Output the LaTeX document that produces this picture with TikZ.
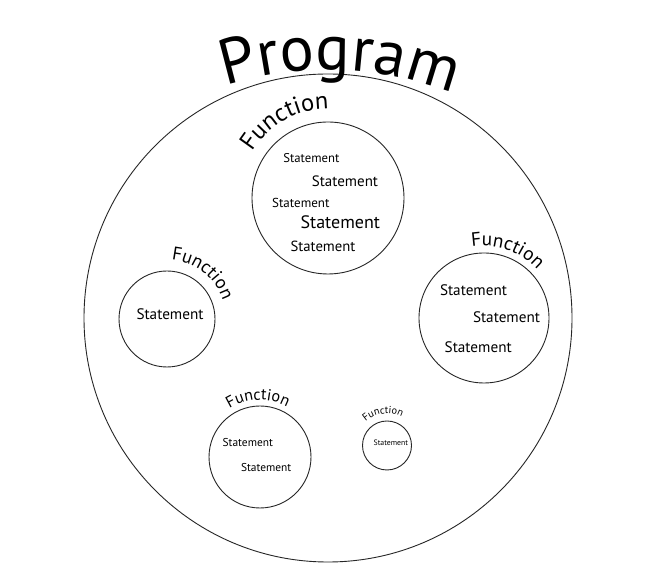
\documentclass[tikz,border=0pt]{standalone}
\usepackage{fontspec}
\setmainfont{PT Sans}
\usetikzlibrary{decorations.text}
\newcommand\fsz[1]{\fontsize{#1}{#1}\selectfont}
\newcommand\fProg{\fontsize{64}{64}\selectfont}
\newcommand\fFa{\fontsize{24.5}{24.5}\selectfont}
\newcommand\fFb{\fontsize{18.5}{18.5}\selectfont}
\newcommand\fFc{\fontsize{19.3}{19.3}\selectfont}
\newcommand\fFd{\fontsize{16.1}{16.1}\selectfont}
\newcommand\fFe{\fontsize{10.3}{10.3}\selectfont}
\begin{document}
\begin{tikzpicture}[x=1pt,y=1pt,
  ring/.style={draw=black!85, line width=0.9pt, circle, inner sep=0pt},
  stmt/.style={inner sep=0pt, text=black},
  arclabel/.style={decorate, decoration={text along path, text align=center, text={#1}}}]
\useasboundingbox (0,0) rectangle (656,580);
\fill[white] (0,0) rectangle (656,580);
% circles
\node[ring, minimum size=488] (prog) at (328,262) {};
\node[ring, minimum size=152] (ft) at (328,382) {};
\node[ring, minimum size=96] (fl) at (167,261) {};
\node[ring, minimum size=130] (fr) at (484,262) {};
\node[ring, minimum size=102] (fb) at (260,123) {};
\node[ring, minimum size=49] (fs) at (387,134.5) {};
\coordinate (pc) at (328,170);
% curved labels
\path[arclabel={|\fProg|Program}] (pc) ++(118:340) arc[start angle=118, end angle=58, radius=340];
\path[arclabel={|\fFa|Function}] (ft) ++(175:89) arc[start angle=175, end angle=63, radius=89];
\path[arclabel={|\fFb|Function}] (fl) ++(110:59) arc[start angle=110, end angle=-6, radius=59];
\path[arclabel={|\fFc|Function}] (fr) ++(125:72) arc[start angle=125, end angle=17, radius=72];
\path[arclabel={|\fFd|Function}] (fb) ++(150:57) arc[start angle=150, end angle=34, radius=57];
\path[arclabel={|\fFe|Function}] (fs) ++(170:32) arc[start angle=170, end angle=24, radius=32];
% statements
\node[stmt] (t1) at (311.3,422.3) {\fsz{12.7}Statement};
\node[stmt] (t2) at (345,398.3) {\fsz{15}Statement};
\node[stmt] (t3) at (300.8,376.7) {\fsz{13}Statement};
\node[stmt] (t4) at (340.3,357.3) {\fsz{18}Statement};
\node[stmt] (t5) at (323,333.3) {\fsz{14.7}Statement};
\node[stmt] (l1) at (170,265.7) {\fsz{15.2}Statement};
\node[stmt] (r1) at (473.5,290) {\fsz{15.2}Statement};
\node[stmt] (r2) at (506.5,262.7) {\fsz{15.2}Statement};
\node[stmt] (r3) at (478.2,232.7) {\fsz{15.2}Statement};
\node[stmt] (b1) at (247.8,137.7) {\fsz{11.4}Statement};
\node[stmt] (b2) at (266.2,112.7) {\fsz{11.4}Statement};
\node[stmt] (s1) at (390.8,137.7) {\fsz{7.8}Statement};
\end{tikzpicture}
\end{document}
